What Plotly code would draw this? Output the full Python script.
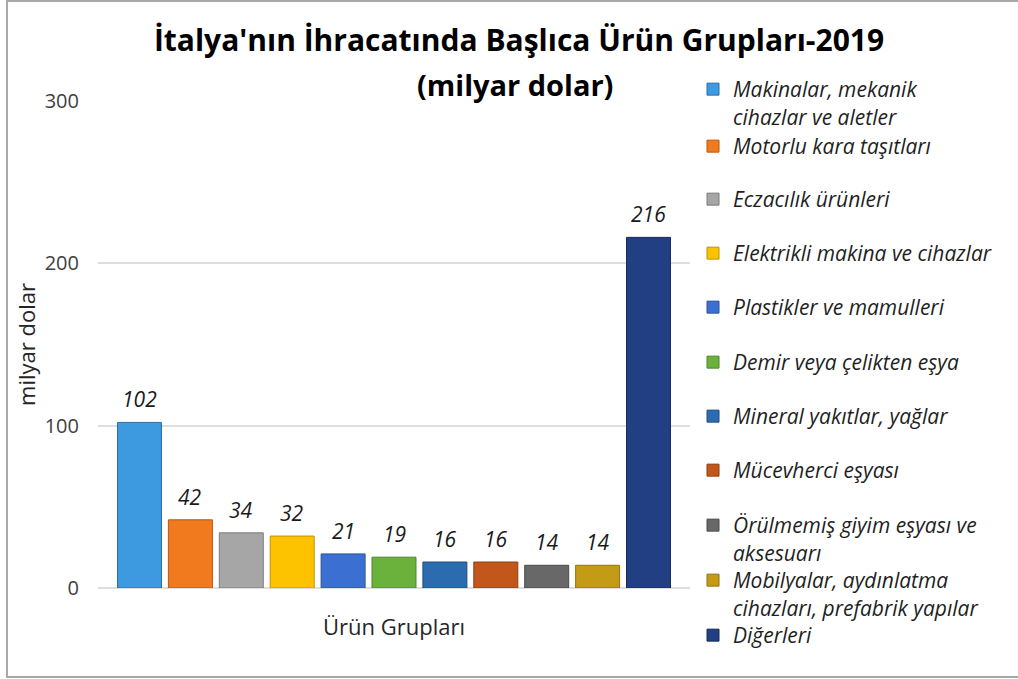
import plotly.graph_objects as go

# ---- data ----
categories = [
    "Makinalar, mekanik cihazlar ve aletler",
    "Motorlu kara taşıtları",
    "Eczacılık ürünleri",
    "Elektrikli makina ve cihazlar",
    "Plastikler ve mamulleri",
    "Demir veya çelikten eşya",
    "Mineral yakıtlar, yağlar",
    "Mücevherci eşyası",
    "Örülmemiş giyim eşyası ve aksesuarı",
    "Mobilyalar, aydınlatma cihazları, prefabrik yapılar",
    "Diğerleri",
]
legend_labels = [
    "Makinalar, mekanik<br>cihazlar ve aletler",
    "Motorlu kara taşıtları",
    "Eczacılık ürünleri",
    "Elektrikli makina ve cihazlar",
    "Plastikler ve mamulleri",
    "Demir veya çelikten eşya",
    "Mineral yakıtlar, yağlar",
    "Mücevherci eşyası",
    "Örülmemiş giyim eşyası ve<br>aksesuarı",
    "Mobilyalar, aydınlatma<br>cihazları, prefabrik yapılar",
    "Diğerleri",
]
values = [102, 42, 34, 32, 21, 19, 16, 16, 14, 14, 216]
y_ticks = [0, 100, 200, 300]

# ---- style ----
colors = ["#3d99e0", "#f27a1e", "#a6a6a6", "#fdc300", "#3b70d2", "#6bb23d",
          "#2b6bb0", "#c2561b", "#686868", "#c49b14", "#213f82"]
edges = ["#2a6fa8", "#b85812", "#7c7c7c", "#c09200", "#2a529c", "#4e852c",
         "#1e4d80", "#8e3f12", "#4a4a4a", "#92730e", "#162c5c"]
FONT = "Open Sans"
W, H = 1018, 679
L, R, T, B = 98, 690, 101, 588  # plot area in px
legend_px = [88, 145, 198, 252, 306, 361, 415, 469, 524, 579, 634]

fig = go.Figure()
for i, cat in enumerate(categories):
    lg = "legend" if i == 0 else f"legend{i+1}"
    fig.add_trace(go.Bar(
        x=[cat], y=[values[i]], name=legend_labels[i],
        marker=dict(color=colors[i], line=dict(color=edges[i], width=1)),
        width=0.864, legend=lg, hoverinfo="y+name",
    ))
    fig.add_annotation(
        x=cat, y=values[i], text=str(values[i]), showarrow=False,
        yanchor="bottom", yshift=7,
        font=dict(family=FONT, size=21, color="#1a1a1a", style="italic"),
    )

layout_legends = {}
for i in range(len(categories)):
    key = "legend" if i == 0 else f"legend{i+1}"
    layout_legends[key] = dict(
        xref="container", yref="container",
        x=(733 - 40) / W, y=1 - (legend_px[i] - 19) / H,
        xanchor="left", yanchor="top", valign="top",
        bgcolor="rgba(0,0,0,0)", borderwidth=0,
        font=dict(family=FONT, size=21, color="#1f1f1f", style="italic"),
    )

fig.update_layout(
    width=W, height=H,
    margin=dict(l=L, r=W - R, t=T, b=H - B, autoexpand=False),
    paper_bgcolor="white", plot_bgcolor="white",
    barmode="overlay",
    showlegend=True,
    title=dict(
        text="<b>İtalya'nın İhracatında Başlıca Ürün Grupları-2019</b>",
        x=519 / W, xanchor="center", xref="container",
        y=1 - 40 / H, yanchor="middle", yref="container",
        font=dict(family=FONT, size=30, color="#000000"),
    ),
    **layout_legends,
)
fig.add_annotation(
    xref="paper", yref="paper",
    x=(515 - L) / (R - L), y=(B - 85) / (B - T),
    text="<b>(milyar dolar)</b>", showarrow=False,
    xanchor="center", yanchor="middle",
    font=dict(family=FONT, size=29, color="#000000"),
)

fig.update_xaxes(
    type="category", range=[-0.815, 10.815],
    showticklabels=False, showgrid=False, showline=False, zeroline=False,
    title=dict(text="Ürün Grupları", standoff=31,
               font=dict(family=FONT, size=22, color="#262626")),
)
fig.update_yaxes(
    range=[0, 300], tickvals=y_ticks, ticks="",
    ticklabelstandoff=18,
    tickfont=dict(family=FONT, size=20, color="#404040"),
    showgrid=True, gridcolor="#dedede", gridwidth=2,
    zeroline=True, zerolinecolor="#dedede", zerolinewidth=2,
    showline=False,
    title=dict(text="milyar dolar", standoff=2,
               font=dict(family=FONT, size=22, color="#262626")),
)

# outer frame like the source image
fig.add_shape(
    type="rect", xref="paper", yref="paper", layer="below",
    x0=(7 - L) / (R - L), x1=(W + 20 - L) / (R - L),
    y0=(B - 677) / (B - T), y1=(B - 1) / (B - T),
    line=dict(color="#a8a8a8", width=2), fillcolor="rgba(0,0,0,0)",
)

fig.write_html(
    "out.html",
    config={"displayModeBar": False},
    post_script="document.body.style.margin='0';document.body.style.overflow='hidden';",
)
